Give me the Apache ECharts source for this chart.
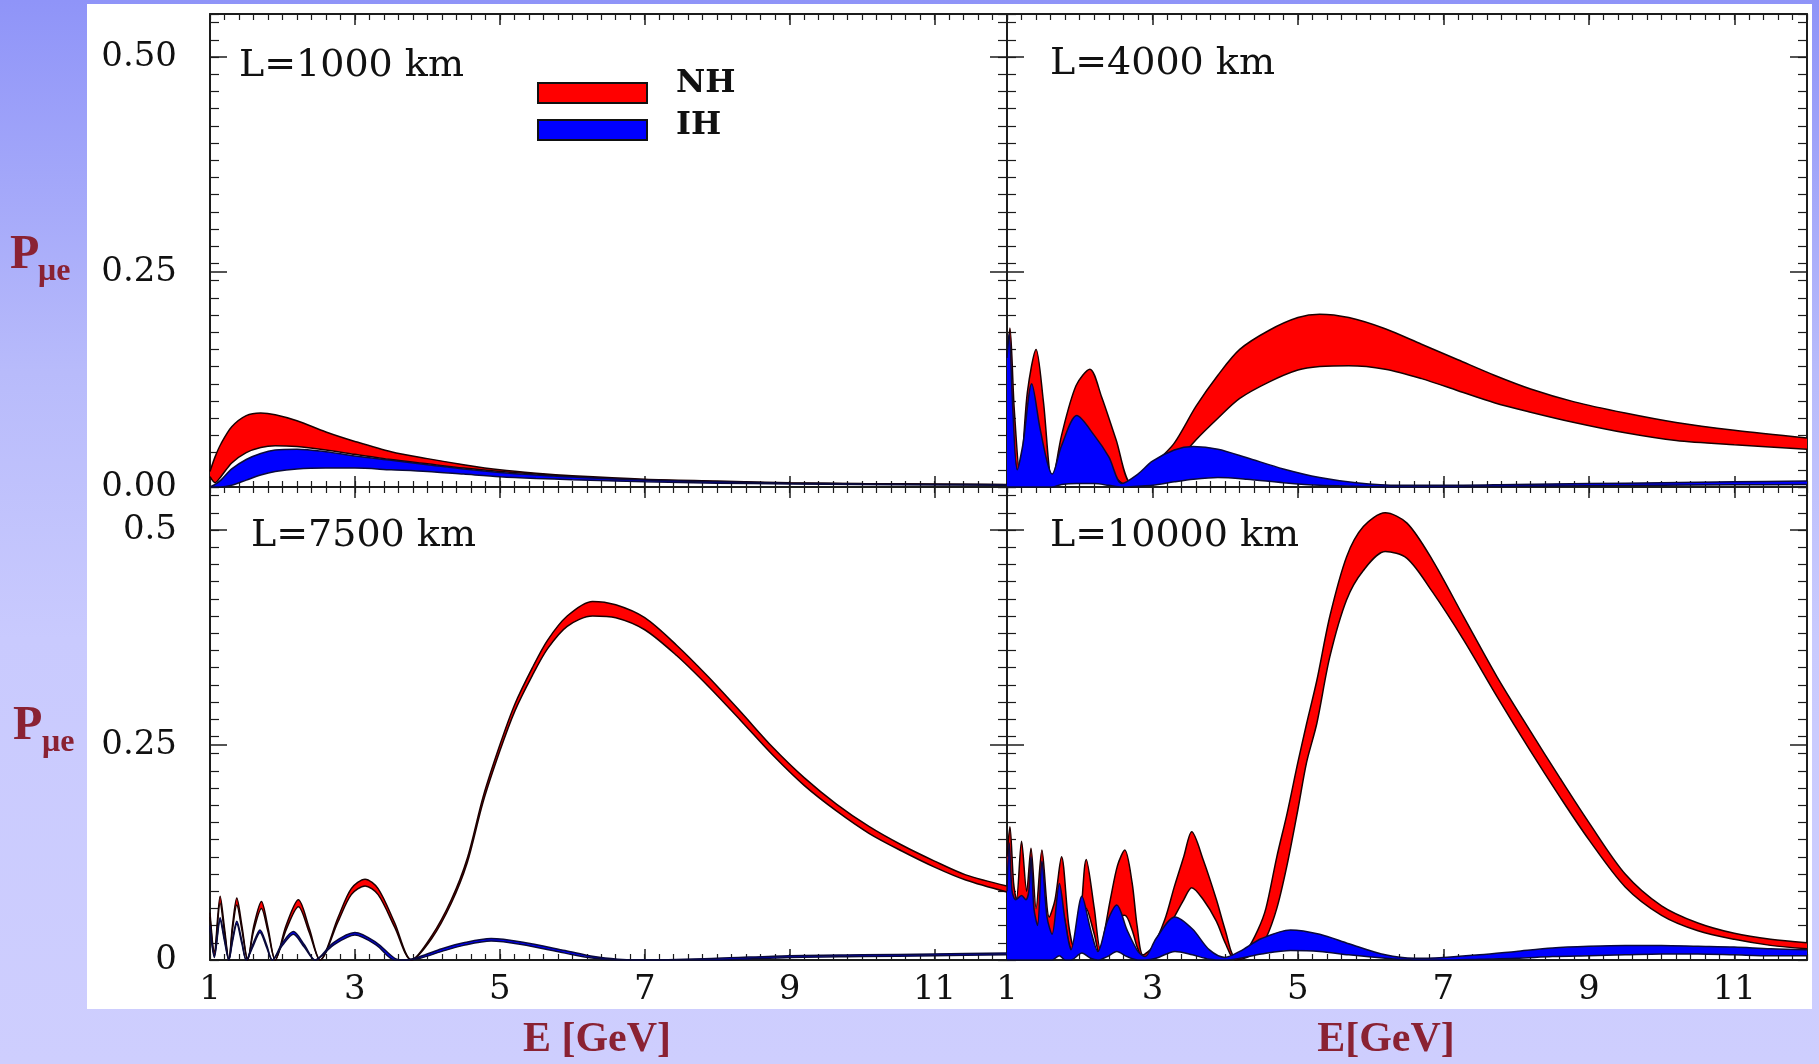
<!DOCTYPE html>
<html><head><meta charset="utf-8">
<script src="https://cdn.jsdelivr.net/npm/echarts@6/dist/echarts.min.js"></script>
<style>
html,body{margin:0;padding:0;}
#c{width:1819px;height:1064px;background:linear-gradient(to bottom,#8f94f8 0%,#b8bbfb 35%,#c9cafe 60%,#cecefe 100%);}
</style></head><body><div id="c"></div>
<script>
// ---------------- data ----------------
const PANEL_TITLES = ['L=1000 km', 'L=4000 km', 'L=7500 km', 'L=10000 km'];
const X_LABELS = ['1', '3', '5', '7', '9', '11'];
const Y_LABELS_TOP = ['0.00', '0.25', '0.50'];
const Y_LABELS_BOTTOM = ['0', '0.25', '0.5'];
const X_NAMES = ['E [GeV]', 'E[GeV]'];
const Y_NAME_MAIN = 'P';
const Y_NAME_SUB = 'μe';
const LEGEND_NAMES = ['NH', 'IH'];

// L = 1000 km
const E_1000 = [1.0, 1.07, 1.15, 1.3, 1.5, 1.7, 1.9, 2.2, 2.6, 3.0, 3.5, 4.0, 4.5, 5.0, 5.5, 6.0, 7.0, 8.0, 9.0, 10.0, 11.0, 12.0];
const NH_HI_1000 = [0.018, 0.035, 0.05, 0.07, 0.083, 0.086, 0.084, 0.077, 0.064, 0.053, 0.041, 0.033, 0.026, 0.020, 0.016, 0.013, 0.009, 0.007, 0.005, 0.004, 0.0035, 0.003];
const NH_LO_1000 = [0.012, 0.005, 0.012, 0.028, 0.040, 0.046, 0.048, 0.047, 0.043, 0.038, 0.032, 0.027, 0.022, 0.018, 0.015, 0.012, 0.008, 0.006, 0.0045, 0.0035, 0.003, 0.0025];
const IH_HI_1000 = [0.0, 0.003, 0.008, 0.021, 0.032, 0.039, 0.043, 0.044, 0.041, 0.036, 0.031, 0.026, 0.021, 0.017, 0.014, 0.0115, 0.008, 0.006, 0.0045, 0.0035, 0.003, 0.0025];
const IH_LO_1000 = [0.0, 0.0, 0.0, 0.002, 0.008, 0.014, 0.018, 0.021, 0.022, 0.022, 0.020, 0.018, 0.015, 0.012, 0.010, 0.0085, 0.006, 0.0045, 0.0035, 0.003, 0.0025, 0.002];

// L = 4000 km
const E_NH_4000 = [1.0, 1.04, 1.1, 1.18, 1.28, 1.4, 1.5, 1.62, 1.75, 1.95, 2.14, 2.3, 2.5, 2.71, 2.9, 3.05, 3.3, 3.6, 3.9, 4.2, 4.6, 5.0, 5.3, 5.7, 6.2, 6.7, 7.2, 7.7, 8.2, 8.8, 9.5, 10.2, 11.0, 12.0];
const NH_HI_4000 = [0.15, 0.185, 0.09, 0.012, 0.11, 0.16, 0.10, 0.006, 0.06, 0.118, 0.137, 0.105, 0.055, 0.004, 0.008, 0.028, 0.051, 0.094, 0.13, 0.16, 0.182, 0.197, 0.201, 0.197, 0.184, 0.166, 0.148, 0.13, 0.114, 0.099, 0.086, 0.075, 0.066, 0.057];
const NH_LO_4000 = [0.06, 0.08, 0.04, 0.0, 0.04, 0.07, 0.04, 0.0, 0.02, 0.05, 0.06, 0.035, 0.01, 0.0, 0.002, 0.008, 0.026, 0.055, 0.08, 0.103, 0.122, 0.136, 0.140, 0.141, 0.137, 0.126, 0.112, 0.098, 0.087, 0.075, 0.063, 0.054, 0.049, 0.044];
const E_IH_4000 = [1.0, 1.03, 1.08, 1.14, 1.22, 1.34, 1.45, 1.55, 1.62, 1.75, 1.96, 2.2, 2.4, 2.58, 2.8, 3.0, 3.3, 3.56, 3.9, 4.3, 4.8, 5.3, 5.8, 6.4, 7.0, 8.0, 9.0, 10.0, 11.0, 12.0];
const IH_HI_4000 = [0.15, 0.178, 0.09, 0.02, 0.05, 0.12, 0.07, 0.03, 0.015, 0.048, 0.083, 0.06, 0.035, 0.004, 0.015, 0.03, 0.043, 0.047, 0.044, 0.034, 0.021, 0.011, 0.005, 0.002, 0.002, 0.003, 0.004, 0.005, 0.006, 0.007];
const IH_LO_4000 = [0, 0, 0, 0, 0, 0, 0, 0, 0, 0.003, 0.004, 0.004, 0.002, 0, 0.001, 0.002, 0.006, 0.009, 0.011, 0.009, 0.005, 0.002, 0.001, 0, 0, 0.001, 0.0015, 0.002, 0.0025, 0.003];

// L = 7500 km
const E_NH_7500 = [1.0, 1.06, 1.14, 1.2, 1.26, 1.31, 1.37, 1.44, 1.52, 1.6, 1.71, 1.8, 1.9, 2.05, 2.22, 2.37, 2.52, 2.77, 2.95, 3.14, 3.32, 3.55, 3.78, 4.06, 4.33, 4.55, 4.77, 5.0, 5.21, 5.45, 5.66, 5.93, 6.28, 6.6, 7.0, 7.44, 7.88, 8.33, 8.77, 9.2, 9.65, 10.1, 10.54, 11.0, 11.43, 12.0];
const NH_HI_7500 = [0.055, 0.01, 0.074, 0.037, 0.0, 0.04, 0.072, 0.04, 0.0, 0.038, 0.068, 0.038, 0.0, 0.04, 0.07, 0.037, 0.0, 0.05, 0.083, 0.094, 0.083, 0.043, 0.0, 0.028, 0.07, 0.118, 0.19, 0.25, 0.298, 0.34, 0.372, 0.4, 0.417, 0.413, 0.398, 0.366, 0.329, 0.288, 0.247, 0.212, 0.181, 0.155, 0.134, 0.115, 0.099, 0.086];
const NH_LO_7500 = [0.05, 0.006, 0.066, 0.032, 0.0, 0.035, 0.064, 0.035, 0.0, 0.033, 0.06, 0.033, 0.0, 0.035, 0.062, 0.032, 0.0, 0.045, 0.076, 0.086, 0.076, 0.038, 0.0, 0.025, 0.066, 0.113, 0.184, 0.243, 0.29, 0.331, 0.362, 0.388, 0.4, 0.398, 0.384, 0.354, 0.318, 0.278, 0.238, 0.203, 0.173, 0.147, 0.127, 0.108, 0.093, 0.079];
const E_IH_7500 = [1.0, 1.06, 1.14, 1.2, 1.26, 1.31, 1.37, 1.44, 1.5, 1.6, 1.69, 1.78, 1.86, 2.0, 2.15, 2.3, 2.45, 2.7, 3.0, 3.3, 3.55, 3.7, 3.9, 4.2, 4.5, 4.88, 5.3, 5.9, 6.3, 6.63, 7.0, 8.0, 9.0, 10.0, 11.0, 12.0];
const IH_HI_7500 = [0.04, 0.005, 0.049, 0.025, 0.0, 0.024, 0.045, 0.022, 0.0, 0.02, 0.035, 0.018, 0.0, 0.02, 0.033, 0.018, 0.0, 0.02, 0.032, 0.02, 0.002, 0.0, 0.004, 0.013, 0.02, 0.025, 0.021, 0.011, 0.004, 0.001, 0.0, 0.002, 0.005, 0.006, 0.007, 0.008];
const IH_LO_7500 = [0.037, 0.003, 0.046, 0.022, 0.0, 0.021, 0.042, 0.019, 0.0, 0.017, 0.032, 0.015, 0.0, 0.017, 0.03, 0.015, 0.0, 0.017, 0.029, 0.017, 0.0, 0.0, 0.002, 0.01, 0.017, 0.022, 0.018, 0.008, 0.002, 0.0, 0.0, 0.0, 0.003, 0.004, 0.005, 0.006];

// L = 10000 km
const E_NH_10000 = [1.0, 1.04, 1.09, 1.13, 1.2, 1.27, 1.33, 1.4, 1.48, 1.58, 1.66, 1.75, 1.85, 1.92, 2.0, 2.09, 2.2, 2.28, 2.42, 2.52, 2.62, 2.72, 2.79, 2.87, 3.0, 3.17, 3.3, 3.43, 3.54, 3.7, 3.88, 4.0,
  4.14, 4.3, 4.45, 4.56, 4.71, 4.85, 5.0, 5.12, 5.26, 5.44, 5.67, 5.9, 6.2, 6.5, 6.85, 7.28, 7.74, 8.19, 8.6, 9.0, 9.5, 10.0, 10.5, 11.0, 11.5, 12.0];
const NH_HI_10000 = [0.12, 0.155, 0.09, 0.07, 0.138, 0.08, 0.13, 0.06, 0.128, 0.05, 0.07, 0.12, 0.04, 0.015, 0.04, 0.117, 0.06, 0.014, 0.07, 0.11, 0.128, 0.09, 0.039, 0.006, 0.015, 0.047, 0.085, 0.12, 0.149, 0.116, 0.07, 0.035,
  0.003, 0.012, 0.035, 0.06, 0.12, 0.17, 0.23, 0.275, 0.325, 0.40, 0.469, 0.504, 0.52, 0.508, 0.465, 0.399, 0.329, 0.267, 0.212, 0.16, 0.1, 0.063, 0.043, 0.031, 0.024, 0.02];
const NH_LO_10000 = [0.07, 0.08, 0.05, 0.04, 0.07, 0.04, 0.065, 0.03, 0.065, 0.02, 0.035, 0.06, 0.02, 0.005, 0.02, 0.06, 0.03, 0.005, 0.035, 0.05, 0.052, 0.035, 0.015, 0.002, 0.008, 0.03, 0.05, 0.07, 0.084, 0.07, 0.045, 0.02,
  0.0, 0.003, 0.012, 0.025, 0.06, 0.11, 0.175, 0.23, 0.275, 0.353, 0.419, 0.453, 0.475, 0.467, 0.428, 0.372, 0.306, 0.244, 0.19, 0.14, 0.085, 0.052, 0.034, 0.024, 0.017, 0.013];
const E_IH_10000 = [1.0, 1.03, 1.07, 1.12, 1.2, 1.26, 1.3, 1.33, 1.37, 1.42, 1.48, 1.55, 1.62, 1.72, 1.8, 1.88, 2.03, 2.15, 2.25, 2.38, 2.51, 2.65, 2.8, 2.9, 3.05, 3.31, 3.55, 3.78, 4.0, 4.2, 4.5, 4.9, 5.3, 5.7, 6.2, 6.6, 7.0, 7.5, 8.0, 8.5, 9.0, 9.5, 10.0, 10.5, 11.0, 11.5, 12.0];
const IH_HI_10000 = [0.08, 0.136, 0.08, 0.07, 0.075, 0.07, 0.08, 0.12, 0.06, 0.04, 0.115, 0.05, 0.03, 0.089, 0.045, 0.012, 0.074, 0.035, 0.01, 0.045, 0.064, 0.035, 0.01, 0.004, 0.025, 0.05, 0.036, 0.012, 0.003, 0.01, 0.025, 0.035, 0.03, 0.019, 0.006, 0.002, 0.003, 0.006, 0.01, 0.014, 0.016, 0.017, 0.017, 0.016, 0.015, 0.013, 0.012];
const IH_LO_10000 = [0, 0, 0, 0, 0, 0, 0, 0, 0, 0, 0, 0, 0, 0.005, 0, 0, 0.008, 0.002, 0, 0.004, 0.01, 0.004, 0, 0, 0.002, 0.01, 0.006, 0.001, 0, 0.002, 0.007, 0.011, 0.01, 0.006, 0.002, 0, 0, 0.001, 0.002, 0.004, 0.005, 0.006, 0.007, 0.007, 0.006, 0.005, 0.005];

// ---------------- chart ----------------
const PANELS = [
  {nh: [E_1000, NH_LO_1000, NH_HI_1000], ih: [E_1000, IH_LO_1000, IH_HI_1000]},
  {nh: [E_NH_4000, NH_LO_4000, NH_HI_4000], ih: [E_IH_4000, IH_LO_4000, IH_HI_4000]},
  {nh: [E_NH_7500, NH_LO_7500, NH_HI_7500], ih: [E_IH_7500, IH_LO_7500, IH_HI_7500]},
  {nh: [E_NH_10000, NH_LO_10000, NH_HI_10000], ih: [E_IH_10000, IH_LO_10000, IH_HI_10000]}
];
const GRIDS = [
  {left: 210, top: 14, width: 797, height: 473},
  {left: 1007, top: 14, width: 800, height: 473},
  {left: 210, top: 487, width: 797, height: 473},
  {left: 1007, top: 487, width: 800, height: 473}
];
const AX = '#1c1c1c';
const TICK_FONT = 'DejaVu Serif';
const RED = '#ff0000', BLUE = '#0000ff';
const RED_EDGE = '#1a0000', BLUE_EDGE = '#0a0a3a';

const xAxes = [], yAxes = [], series = [];
GRIDS.forEach((g, gi) => {
  const isTop = gi < 2, isLeft = gi % 2 === 0;
  const xb = {type: 'value', gridIndex: gi, min: 1, max: 12, splitLine: {show: false}};
  const majX = {show: true, inside: true, length: 11, lineStyle: {color: AX, width: 1.5}};
  const minX = {show: true, inside: true, length: 6, lineStyle: {color: AX, width: 1.2}};
  const line = {show: true, onZero: false, lineStyle: {color: AX, width: 2}};
  const xLab = {
    show: !isTop, margin: 13, color: '#111', fontFamily: TICK_FONT, fontSize: 34,
    formatter: v => { const i = (v - 1) / 2; const r = Math.round(i); return Math.abs(i - r) < 1e-6 ? (X_LABELS[r] || '') : ''; }
  };
  xAxes.push(
    Object.assign({}, xb, {position: 'bottom', interval: 2, axisLine: line, axisTick: majX, axisLabel: xLab}),
    Object.assign({}, xb, {position: 'bottom', interval: 0.2, axisLine: {show: false, onZero: false}, axisTick: minX, axisLabel: {show: false}}),
    Object.assign({}, xb, {position: 'top', interval: 2, axisLine: line, axisTick: majX, axisLabel: {show: false}}),
    Object.assign({}, xb, {position: 'top', interval: 0.2, axisLine: {show: false, onZero: false}, axisTick: minX, axisLabel: {show: false}})
  );
  const yb = {type: 'value', gridIndex: gi, min: 0, max: 0.55, splitLine: {show: false}};
  const majY = {show: true, inside: true, length: 17, lineStyle: {color: AX, width: 1.5}};
  const minY = {show: true, inside: true, length: 9, lineStyle: {color: AX, width: 1.2}};
  const labs = isTop ? Y_LABELS_TOP : Y_LABELS_BOTTOM;
  const yLab = {
    show: isLeft, margin: 33, color: '#111', fontFamily: TICK_FONT, fontSize: 34,
    formatter: v => { const i = v / 0.25; const r = Math.round(i); return Math.abs(i - r) < 1e-6 ? (labs[r] || '') : ''; }
  };
  yAxes.push(
    Object.assign({}, yb, {position: 'left', interval: 0.25, axisLine: line, axisTick: majY, axisLabel: yLab}),
    Object.assign({}, yb, {position: 'left', interval: 0.02, axisLine: {show: false, onZero: false}, axisTick: minY, axisLabel: {show: false}}),
    Object.assign({}, yb, {position: 'right', interval: 0.25, axisLine: line, axisTick: majY, axisLabel: {show: false}}),
    Object.assign({}, yb, {position: 'right', interval: 0.02, axisLine: {show: false, onZero: false}, axisTick: minY, axisLabel: {show: false}})
  );
  const p = PANELS[gi];
  function band(key, arr, fill, edge, z) {
    const [E, lo, hi] = arr;
    // value first, energy second, so that the stack runs along the y axis
    const common = {
      type: 'line', xAxisIndex: gi * 4, yAxisIndex: gi * 4, stack: 'p' + gi + key, stackStrategy: 'all',
      dimensions: ['P', 'E'], encode: {x: 1, y: 0},
      symbol: 'none', showSymbol: false, smooth: 0.3, silent: true, emphasis: {disabled: true}
    };
    series.push(
      Object.assign({}, common, {name: key + ' lower', data: E.map((e, i) => [lo[i], e]), lineStyle: {color: edge, width: 1.5}, itemStyle: {color: fill}, z: z + 1}),
      Object.assign({}, common, {name: key, data: E.map((e, i) => [hi[i] - lo[i], e]), lineStyle: {color: edge, width: 1.5}, areaStyle: {color: fill, opacity: 1}, itemStyle: {color: fill}, z: z})
    );
  }
  band(LEGEND_NAMES[0], p.nh, RED, RED_EDGE, 2);
  band(LEGEND_NAMES[1], p.ih, BLUE, BLUE_EDGE, 4);
});

function txt(x, y, text, font, fill, align) {
  return {type: 'text', x: x, y: y, silent: true, z: 100,
    style: {text: text, font: font, fill: fill, textAlign: align || 'left', textVerticalAlign: 'middle', align: align || 'left', verticalAlign: 'middle'}};
}
const TITLE_FONT = '38px "DejaVu Serif"';
const LEGEND_FONT = 'bold 32px "DejaVu Serif"';
const NAME_COLOR = '#8a2233';
const graphics = [
  {type: 'rect', shape: {x: 87, y: 4, width: 1725, height: 1005}, style: {fill: '#ffffff'}, z: -100, silent: true},
  txt(239, 66, PANEL_TITLES[0], TITLE_FONT, '#111'),
  txt(1050, 64, PANEL_TITLES[1], TITLE_FONT, '#111'),
  txt(251, 536, PANEL_TITLES[2], TITLE_FONT, '#111'),
  txt(1050, 536, PANEL_TITLES[3], TITLE_FONT, '#111'),
  txt(676, 84, LEGEND_NAMES[0], LEGEND_FONT, '#111'),
  txt(676, 126, LEGEND_NAMES[1], LEGEND_FONT, '#111'),
  txt(10, 256, Y_NAME_MAIN, 'bold 48px "Liberation Serif"', NAME_COLOR),
  txt(38, 272, Y_NAME_SUB, 'bold 32px "Liberation Serif"', NAME_COLOR),
  txt(13, 727, Y_NAME_MAIN, 'bold 48px "Liberation Serif"', NAME_COLOR),
  txt(42, 743, Y_NAME_SUB, 'bold 32px "Liberation Serif"', NAME_COLOR),
  txt(597, 1040, X_NAMES[0], 'bold 42px "Liberation Serif"', NAME_COLOR, 'center'),
  txt(1386, 1040, X_NAMES[1], 'bold 42px "Liberation Serif"', NAME_COLOR, 'center')
];

const chart = echarts.init(document.getElementById('c'), null, {renderer: 'canvas'});
chart.setOption({
  animation: false,
  backgroundColor: 'transparent',
  grid: GRIDS.map(g => Object.assign({containLabel: false, outerBoundsMode: 'none'}, g)),
  xAxis: xAxes,
  yAxis: yAxes,
  legend: {
    left: 537, top: 82, orient: 'vertical', padding: 0, itemWidth: 109, itemHeight: 20, itemGap: 15,
    icon: 'rect', selectedMode: false,
    formatter: () => '',
    textStyle: {fontSize: 1, lineHeight: 1},
    data: [
      {name: LEGEND_NAMES[0], itemStyle: {color: RED, borderColor: '#111', borderWidth: 2}},
      {name: LEGEND_NAMES[1], itemStyle: {color: BLUE, borderColor: '#111', borderWidth: 2}}
    ]
  },
  graphic: {elements: graphics},
  series: series
});
</script>
</body></html>
